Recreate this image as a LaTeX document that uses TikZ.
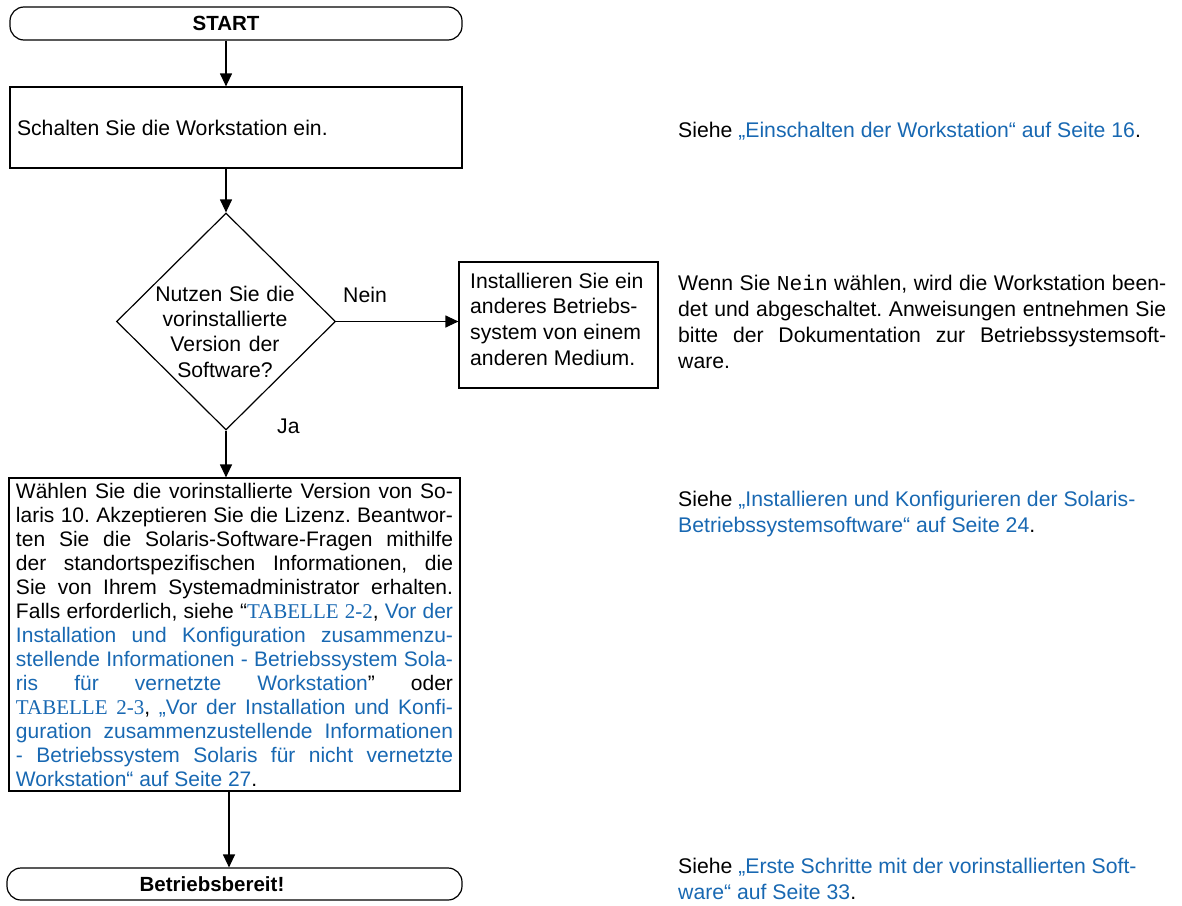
\documentclass[tikz,border=0pt]{standalone}
\usepackage{fontspec}
\setmainfont{Liberation Sans}
\newfontfamily\tms{Liberation Serif}
\newfontfamily\crr{Liberation Mono}
\usetikzlibrary{arrows.meta,shapes.geometric}
\definecolor{lnk}{RGB}{24,104,178}
\newcommand\natsp{\frenchspacing\spaceskip=0pt\xspaceskip=0pt\relax}
\newcommand\jl[1]{\makebox[437pt][s]{\frenchspacing\spaceskip=.278em plus 1fil minus .06em\relax #1}}
\newcommand\jr[1]{\makebox[488pt][s]{\frenchspacing\spaceskip=.278em plus 1fil minus .06em\relax #1}}
\begin{document}
\begin{tikzpicture}[x=1pt,y=-1pt,
  arr/.style={line width=1.2pt,-{Triangle[length=13pt,width=12pt]}},
  term/.style={draw,line width=1.2pt,rounded corners=14pt,inner sep=0pt},
  box/.style={draw,line width=1.2pt,inner sep=0pt},
  txt/.style={inner sep=0pt,font=\fontsize{21.2}{26}\selectfont},
  btxt/.style={inner sep=0pt,font=\bfseries\fontsize{20.5}{24}\selectfont}]
\useasboundingbox (0,0) rectangle (1182,905);

% start terminal
\node[term,minimum width=452pt,minimum height=33pt] (start) at (236,23.5) {};
\node[btxt] (starttxt) at (226,23.5) {START};

% box 1
\node[box,minimum width=452pt,minimum height=81pt,text width=438pt,align=left,
  font=\fontsize{21.2}{24}\selectfont] (box1) at (236,127.5) {\natsp Schalten Sie die Workstation ein.};

% decision
\node[box,diamond,minimum width=219pt,minimum height=217pt] (dia) at (226,321.5) {};
\node[txt,anchor=base,text width=160pt,align=center,font=\fontsize{21.2}{25.2}\selectfont]
  (diatxt) at (225,301.5) {\natsp Nutzen Sie die\\vorinstallierte\\Version der\\Software?};

% box 2
\node[box,minimum width=199pt,minimum height=126pt] (box2) at (558.5,325) {};
\node[txt,anchor=base west,text width=180pt,align=left,font=\fontsize{21.2}{25.7}\selectfont]
  (box2txt) at (470,288) {\natsp Installieren Sie ein\\anderes Betriebs-\\system von einem\\anderen Medium.};

\node[txt,anchor=base west] (nein) at (343,302) {Nein};
\node[txt,anchor=base west] (ja) at (277,433) {Ja};

% box 3
\node[box,minimum width=451pt,minimum height=313pt,text width=437pt,align=left,
  font=\fontsize{21}{24}\selectfont] (box3) at (234.5,634.5) {%
\jl{Wählen Sie die vorinstallierte Version von So-}\\
\jl{laris 10. Akzeptieren Sie die Lizenz. Beantwor-}\\
\jl{ten Sie die Solaris-Software-Fragen mithilfe}\\
\jl{der standortspezifischen Informationen, die}\\
\jl{Sie von Ihrem Systemadministrator erhalten.}\\
\jl{Falls erforderlich, siehe “{\color{lnk}\tms TABELLE 2-2}, {\color{lnk}Vor der}}\\
\jl{\color{lnk}Installation und Konfiguration zusammenzu-}\\
\jl{\color{lnk}stellende Informationen - Betriebssystem Sola-}\\
\jl{{\color{lnk}ris für vernetzte Workstation}” oder}\\
\jl{{\color{lnk}\tms TABELLE 2-3}, {\color{lnk}„Vor der Installation und Konfi-}}\\
\jl{\color{lnk}guration zusammenzustellende Informationen}\\
\jl{\color{lnk}- Betriebssystem Solaris für nicht vernetzte}\\
\natsp{\color{lnk}Workstation“ auf Seite 27}.};

% end terminal
\node[term,minimum width=455pt,minimum height=32pt] (end) at (234.5,884) {};
\node[btxt] (endtxt) at (212,884) {Betriebsbereit!};

% connectors
\draw[arr] (start.south -| dia.north) -- (box1.north -| dia.north);
\draw[arr] (box1.south -| dia.north) -- (dia.north);
\draw[arr] (dia.east) -- (dia.east -| box2.west);
\draw[arr] (dia.south) -- (dia.south |- box3.north);
\coordinate (c) at ([xshift=-5.5pt]box3.south);
\draw[arr] (c) -- (c |- end.north);

% right column notes
\node[txt,anchor=base west] (r1) at (678,137)
  {Siehe {\color{lnk}„Einschalten der Workstation“ auf Seite 16}.};
\node[txt,anchor=base west,text width=488pt,align=left] (r2) at (678,290) {%
\jr{Wenn Sie {\crr Nein} wählen, wird die Workstation been-}\\
\jr{det und abgeschaltet. Anweisungen entnehmen Sie}\\
\jr{bitte der Dokumentation zur Betriebssystemsoft-}\\
\natsp ware.};
\node[txt,anchor=base west,text width=500pt,align=left] (r3) at (678,506)
  {\natsp Siehe {\color{lnk}„Installieren und Konfigurieren der Solaris-\\Betriebssystemsoftware“ auf Seite 24}.};
\node[txt,anchor=base west,text width=500pt,align=left] (r4) at (678,873)
  {\natsp Siehe {\color{lnk}„Erste Schritte mit der vorinstallierten Soft-\\ware“ auf Seite 33}.};
\end{tikzpicture}
\end{document}
